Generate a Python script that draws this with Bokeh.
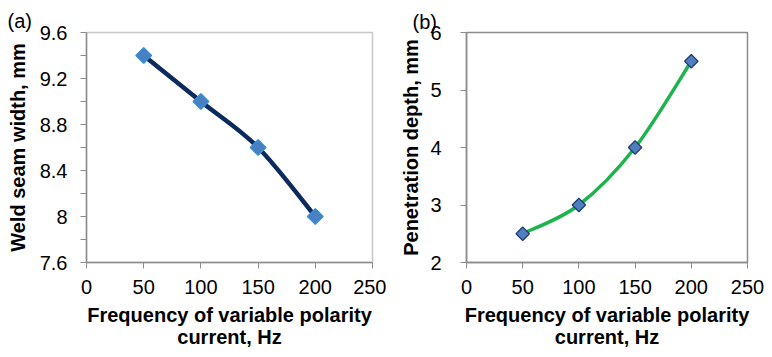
from bokeh.plotting import figure
from bokeh.layouts import row
from bokeh.models import FixedTicker, ColumnDataSource
from bokeh.embed import file_html
from bokeh.resources import INLINE

# ---- data ----
freq = [50, 100, 150, 200]
width_mm = [9.4, 9.0, 8.6, 8.0]
depth_mm = [2.5, 3.0, 4.0, 5.5]

x_ticks = [0, 50, 100, 150, 200, 250]
yA_ticks = [7.6, 8.0, 8.4, 8.8, 9.2, 9.6]
yA_labels = ["7.6", "8", "8.4", "8.8", "9.2", "9.6"]
yA_minor = [7.8, 8.2, 8.6, 9.0, 9.4]
yB_ticks = [2, 3, 4, 5, 6]

FONT = "Liberation Sans"


def smooth_segments(xs, ys):
    """Bezier control points (Catmull-Rom style, like spreadsheet smoothing)."""
    n = len(xs)
    px = [xs[0]] + list(xs) + [xs[-1]]
    py = [ys[0]] + list(ys) + [ys[-1]]
    d = dict(x0=[], y0=[], x1=[], y1=[], cx0=[], cy0=[], cx1=[], cy1=[])
    for i in range(1, n):
        d["x0"].append(px[i]); d["y0"].append(py[i])
        d["x1"].append(px[i + 1]); d["y1"].append(py[i + 1])
        d["cx0"].append(px[i] + (px[i + 1] - px[i - 1]) / 6)
        d["cy0"].append(py[i] + (py[i + 1] - py[i - 1]) / 6)
        d["cx1"].append(px[i + 1] - (px[i + 2] - px[i]) / 6)
        d["cy1"].append(py[i + 1] - (py[i + 2] - py[i]) / 6)
    return ColumnDataSource(d)


def make_fig(ylo, yhi, ylabel, tag, border_left, border_right, outline):
    p = figure(width=386, height=357, x_range=(0, 250), y_range=(ylo, yhi),
               output_backend="svg", toolbar_location=None, title=tag,
               min_border_left=border_left, min_border_right=border_right,
               min_border_top=32, min_border_bottom=95)
    p.title.align = "left"
    p.title.text_font = FONT
    p.title.text_font_size = "20px"
    p.title.text_font_style = "normal"
    p.title.text_color = "black"
    p.title.standoff = 2
    p.grid.visible = False
    p.outline_line_color = outline
    p.outline_line_width = 1.5
    p.xaxis.ticker = FixedTicker(ticks=x_ticks)
    p.xaxis.axis_label = "Frequency of variable polarity\ncurrent, Hz"
    p.yaxis.axis_label = ylabel
    for ax in (p.xaxis, p.yaxis):
        ax.axis_line_color = "#8c8c8c"
        ax.axis_line_width = 1.5
        ax.major_tick_line_color = "#8c8c8c"
        ax.minor_tick_line_color = "#8c8c8c"
        ax.major_tick_in = 0
        ax.major_tick_out = 6
        ax.minor_tick_in = 0
        ax.minor_tick_out = 6
        ax.major_label_text_font = FONT
        ax.major_label_text_font_size = "20px"
        ax.major_label_text_color = "black"
        ax.axis_label_text_font = FONT
        ax.axis_label_text_font_style = "bold"
        ax.axis_label_text_font_size = "20px"
        ax.axis_label_text_color = "black"
    p.xaxis.major_label_standoff = 11
    p.xaxis.axis_label_standoff = 7
    p.xaxis.axis_label_text_line_height = 1.0
    return p


# ---- (a) weld seam width ----
pa = make_fig(7.6, 9.6, "Weld seam width, mm", "(a)", 86, 14, "#c8c8c8")
pa.title.offset = -79
pa.yaxis.ticker = FixedTicker(ticks=yA_ticks, minor_ticks=yA_minor)
pa.yaxis.major_label_overrides = dict(zip(yA_ticks, yA_labels))
pa.yaxis.major_label_standoff = 13
pa.yaxis.axis_label_standoff = 8
srcA = smooth_segments(freq, width_mm)
pa.bezier(x0="x0", y0="y0", x1="x1", y1="y1", cx0="cx0", cy0="cy0",
          cx1="cx1", cy1="cy1", source=srcA, line_color="#0b2a5e", line_width=4.5)
pa.scatter(freq, width_mm, marker="square", angle=0.785398, size=11,
           fill_color="#4a7fc2", line_color="#3590d6", line_width=1.5)

# ---- (b) penetration depth ----
pb = make_fig(2, 6, "Penetration depth, mm", "(b)", 80, 25, "#8c8c8c")
pb.title.offset = -54
pb.title.standoff = 0
pb.yaxis.ticker = FixedTicker(ticks=yB_ticks)
pb.yaxis.major_label_standoff = 19
pb.yaxis.axis_label_standoff = 5
srcB = smooth_segments(freq, depth_mm)
pb.bezier(x0="x0", y0="y0", x1="x1", y1="y1", cx0="cx0", cy0="cy0",
          cx1="cx1", cy1="cy1", source=srcB, line_color="#1db34d", line_width=3.5)
pb.scatter(freq, depth_mm, marker="square", angle=0.785398, size=9.5,
           fill_color="#4f7fbf", line_color="#1f3b73", line_width=1.2)

layout = row(pa, pb)
open("out.html", "w").write(file_html(layout, INLINE))
